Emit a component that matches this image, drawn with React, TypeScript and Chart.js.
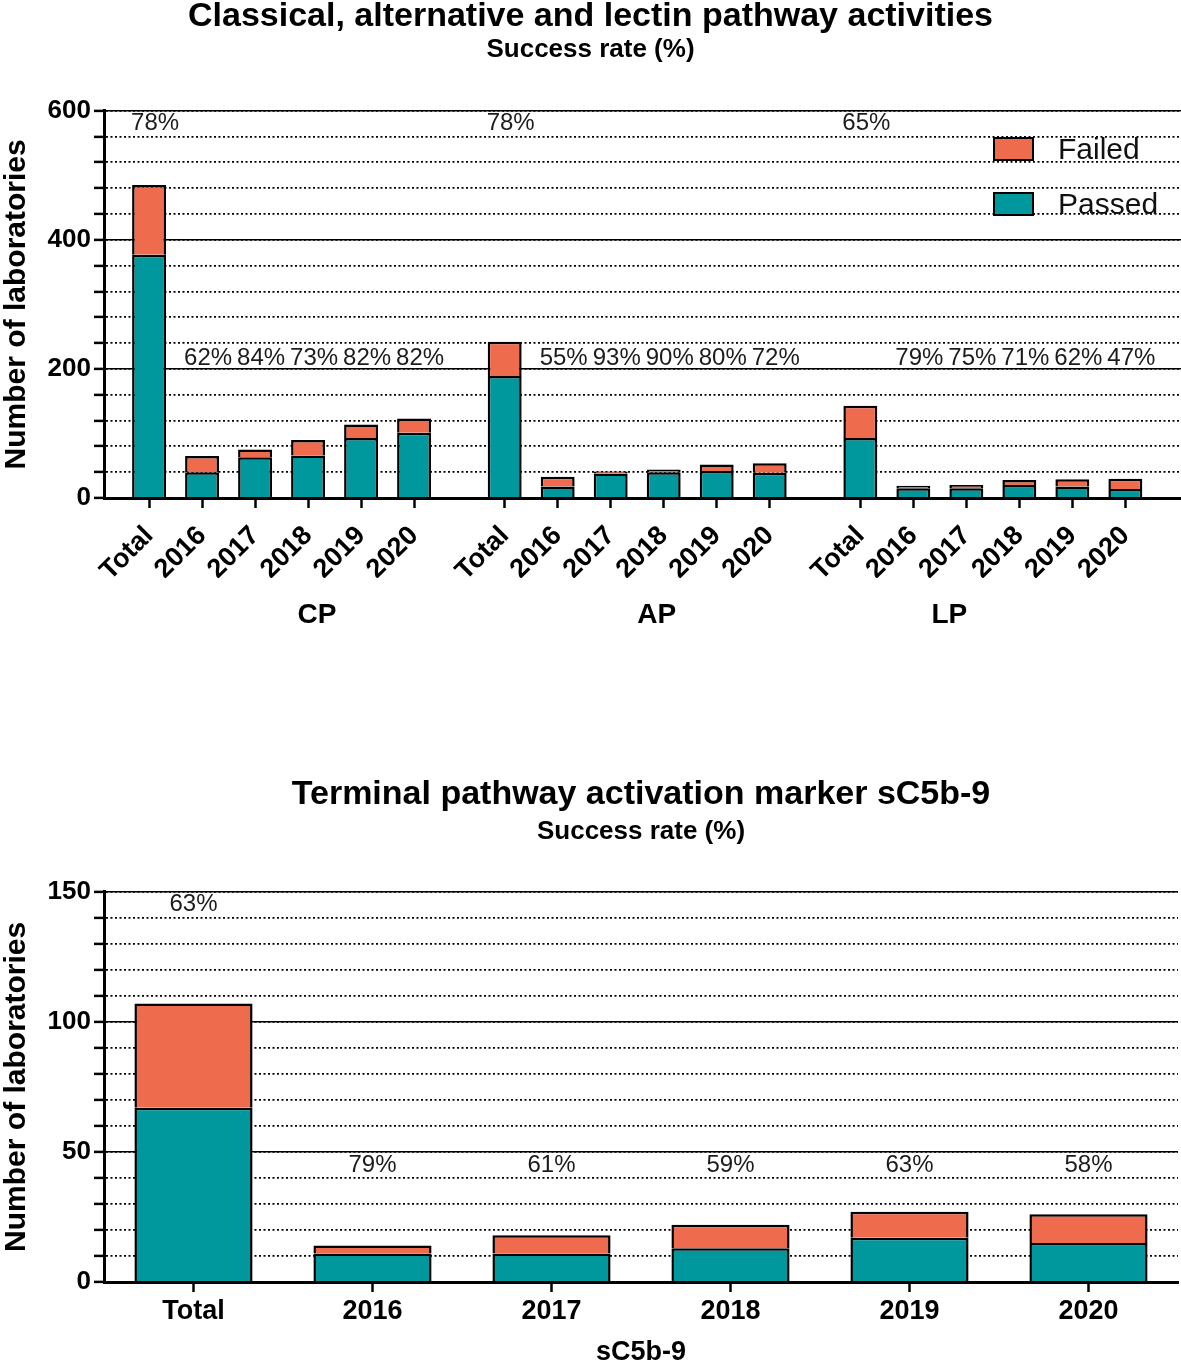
import { useEffect, useRef } from "react";
import { Chart, registerables } from "chart.js";

Chart.register(...registerables);

// pathway activities (CP / AP / LP)
const groups = ["CP", "AP", "LP"];
const periods = ["Total", "2016", "2017", "2018", "2019", "2020"];

const cpPassed = [377, 40, 63, 66, 93, 101];
const cpFailed = [108, 25, 12, 24, 21, 22];
const apPassed = [189, 18, 38, 40, 42, 39];
const apFailed = [53, 15, 3, 4, 10, 15];
const lpPassed = [93, 15, 15, 20, 18, 14];
const lpFailed = [50, 4, 5, 8, 11, 16];

const cpRates = ["78%", "62%", "84%", "73%", "82%", "82%"];
const apRates = ["78%", "55%", "93%", "90%", "80%", "72%"];
const lpRates = ["65%", "79%", "75%", "71%", "62%", "47%"];

const pathwayTicks = [0, 200, 400, 600];

// terminal pathway marker
const scPassed = [67, 11, 11, 13, 17, 15];
const scFailed = [40, 3, 7, 9, 10, 11];
const scRates = ["63%", "79%", "61%", "59%", "63%", "58%"];

const scTicks = [0, 50, 100, 150];

const PASSED = "#00989d";
const FAILED = "#ee6b4d";
const FONT = "'Liberation Sans', Arial, sans-serif";

// spacing between the starts of the three groups, in bar slots
const GROUP_STEP = 6.71;
const groupTitleAt = [3.17, 9.58, 15.1];

const rateLabels = {
  id: "rateLabels",
  afterDatasetsDraw(chart: any, _args: any, opts: any) {
    const { ctx, scales } = chart;
    ctx.save();
    ctx.fillStyle = "#1c1c1c";
    ctx.textAlign = "center";
    ctx.textBaseline = "middle";
    ctx.font = `24px ${FONT}`;
    opts.items.forEach((it: any) => {
      ctx.fillText(
        it.text,
        scales.x.getPixelForValue(it.x) + (opts.dx || 0),
        scales.y.getPixelForValue(it.level)
      );
    });
    if (opts.groups) {
      ctx.fillStyle = "#000";
      ctx.font = `bold 28px ${FONT}`;
      opts.groups.forEach((g: any) => {
        ctx.fillText(g.text, scales.x.getPixelForValue(g.x), scales.x.bottom + 37);
      });
    }
    ctx.restore();
  },
};

// minor ticks every `step`, labels only on the major values
const yAxis = (max: number, step: number, major: number[], width = 104) => ({
  min: 0,
  max,
  stacked: true,
  afterBuildTicks: (s: any) => {
    const t = [];
    for (let v = 0; v <= max; v += step) t.push({ value: v });
    s.ticks = t;
  },
  afterFit: (s: any) => {
    s.width = width;
  },
  ticks: {
    autoSkip: false,
    color: "#000",
    padding: 3,
    font: { family: FONT, size: 26, weight: "bold" },
    callback: (v: any) => (major.includes(Number(v)) ? String(v) : ""),
  },
  grid: {
    color: "#000",
    lineWidth: 1.8,
    tickLength: 10,
    tickWidth: 2.5,
    tickColor: "#000",
  },
  border: { color: "#000", width: 3, dash: [2, 2.5] },
  title: {
    display: true,
    text: "Number of laboratories",
    color: "#000",
    font: { family: FONT, size: 30, weight: "bold", lineHeight: 1.1 },
    padding: { top: 0, bottom: 0 },
  },
});

const majorAxis = (max: number, step: number) => ({
  position: "left",
  min: 0,
  max,
  ticks: { display: false, stepSize: step },
  grid: { color: "#000", lineWidth: 1.6, drawTicks: false },
  border: { display: false },
});

const titles = (text: string, top: number, gap: number, below: number, fullSize: boolean) => ({
  title: {
    display: true,
    text,
    color: "#000",
    fullSize,
    font: { family: FONT, size: 34, weight: "bold", lineHeight: 1 },
    padding: { top, bottom: gap },
  },
  subtitle: {
    display: true,
    text: "Success rate (%)",
    color: "#000",
    fullSize,
    font: { family: FONT, size: 26, weight: "bold", lineHeight: 1 },
    padding: { top: 0, bottom: below },
  },
});

const PathwayChart = () => {
  const ref = useRef<HTMLCanvasElement | null>(null);

  useEffect(() => {
    if (!ref.current) return;
    const passed = [cpPassed, apPassed, lpPassed];
    const failed = [cpFailed, apFailed, lpFailed];
    const rates = [cpRates, apRates, lpRates];

    const xs: number[] = [];
    const labels: string[] = [];
    const passedPts: { x: number; y: number }[] = [];
    const failedPts: { x: number; y: number }[] = [];
    const items: { text: string; x: number; level: number }[] = [];
    groups.forEach((_g, gi) => {
      periods.forEach((p, i) => {
        const x = gi * GROUP_STEP + i;
        xs.push(x);
        labels.push(p);
        passedPts.push({ x, y: passed[gi][i] });
        failedPts.push({ x, y: failed[gi][i] });
        items.push({ text: rates[gi][i], x, level: i === 0 ? 581 : 217 });
      });
    });

    const chart = new Chart(ref.current, {
      type: "bar",
      data: {
        datasets: [
          {
            label: "Passed",
            data: passedPts,
            backgroundColor: PASSED,
            borderColor: "#000",
            borderWidth: 2.5,
          },
          {
            label: "Failed",
            data: failedPts,
            backgroundColor: FAILED,
            borderColor: "#000",
            borderWidth: 2.5,
          },
        ],
      },
      options: {
        animation: false,
        responsive: true,
        maintainAspectRatio: false,
        layout: { padding: { bottom: 72 } },
        datasets: { bar: { barPercentage: 0.64, categoryPercentage: 1 } },
        scales: {
          x: {
            type: "linear",
            stacked: true,
            offset: false,
            min: -0.85,
            max: 19.47,
            afterBuildTicks: (s: any) => {
              s.ticks = xs.map((v) => ({ value: v }));
            },
            afterFit: (s: any) => {
              s.height = 80;
            },
            ticks: {
              autoSkip: false,
              minRotation: 45,
              maxRotation: 45,
              padding: 12,
              color: "#000",
              font: { family: FONT, size: 27, weight: "bold" },
              callback: (_v: any, i: number) => labels[i],
            },
            grid: {
              offset: false,
              drawOnChartArea: false,
              tickLength: 10,
              tickWidth: 2.5,
              tickColor: "#000",
            },
            border: { color: "#000", width: 3 },
          },
          y: yAxis(600, 40, pathwayTicks),
          major: majorAxis(600, 200),
        } as any,
        plugins: {
          legend: { display: false },
          tooltip: { enabled: false },
          ...titles("Classical, alternative and lectin pathway activities", 0, 3, 47.7, true),
          rateLabels: {
            items,
            dx: 6,
            groups: groups.map((g, gi) => ({ text: g, x: groupTitleAt[gi] })),
          },
        } as any,
      },
      plugins: [rateLabels],
    });

    return () => {
      chart.destroy();
    };
  }, []);

  return (
    <div style={{ position: "absolute", left: 0, top: 0, width: 1181, height: 650 }}>
      <canvas ref={ref} />
      <div
        style={{
          position: "absolute",
          left: 993,
          top: 137,
          fontFamily: FONT,
          fontSize: 30,
          color: "#111",
          lineHeight: "24px",
        }}
      >
        {[
          { label: "Failed", color: FAILED },
          { label: "Passed", color: PASSED },
        ].map((l) => (
          <div key={l.label} style={{ display: "flex", alignItems: "center", height: 24, marginBottom: 31 }}>
            <div
              style={{
                width: 37,
                height: 20,
                background: l.color,
                border: "2px solid #000",
                marginRight: 24,
              }}
            />
            <span>{l.label}</span>
          </div>
        ))}
      </div>
    </div>
  );
};

const TerminalChart = () => {
  const ref = useRef<HTMLCanvasElement | null>(null);

  useEffect(() => {
    if (!ref.current) return;
    const items = scRates.map((t, i) => ({ text: t, x: i, level: i === 0 ? 145 : 45 }));

    const chart = new Chart(ref.current, {
      type: "bar",
      data: {
        labels: periods,
        datasets: [
          {
            label: "Passed",
            data: scPassed,
            backgroundColor: PASSED,
            borderColor: "#000",
            borderWidth: 2.5,
          },
          {
            label: "Failed",
            data: scFailed,
            backgroundColor: FAILED,
            borderColor: "#000",
            borderWidth: 2.5,
          },
        ],
      },
      options: {
        animation: false,
        responsive: true,
        maintainAspectRatio: false,
        layout: { padding: { right: 3 } },
        datasets: { bar: { barPercentage: 0.66, categoryPercentage: 1 } },
        scales: {
          x: {
            stacked: true,
            afterFit: (s: any) => {
              s.height = 88;
            },
            ticks: {
              maxRotation: 0,
              padding: 3,
              color: "#000",
              font: { family: FONT, size: 27, weight: "bold" },
            },
            grid: {
              offset: false,
              drawOnChartArea: false,
              tickLength: 10,
              tickWidth: 2.5,
              tickColor: "#000",
            },
            border: { color: "#000", width: 3 },
            title: {
              display: true,
              text: "sC5b-9",
              color: "#000",
              font: { family: FONT, size: 27, weight: "bold", lineHeight: 1.2 },
              padding: { top: 0, bottom: 1 },
            },
          },
          y: yAxis(150, 10, scTicks),
          major: majorAxis(150, 50),
        } as any,
        plugins: {
          legend: { display: false },
          tooltip: { enabled: false },
          ...titles("Terminal pathway activation marker sC5b-9", 18, 7, 46.7, false),
          rateLabels: { items },
        } as any,
      },
      plugins: [rateLabels],
    });

    return () => {
      chart.destroy();
    };
  }, []);

  return (
    <div style={{ position: "absolute", left: 0, top: 760, width: 1181, height: 610 }}>
      <canvas ref={ref} />
    </div>
  );
};

export default function App() {
  return (
    <div style={{ position: "absolute", left: 0, top: 0, width: 1181, height: 1370, background: "#fff" }}>
      <PathwayChart />
      <TerminalChart />
    </div>
  );
}
